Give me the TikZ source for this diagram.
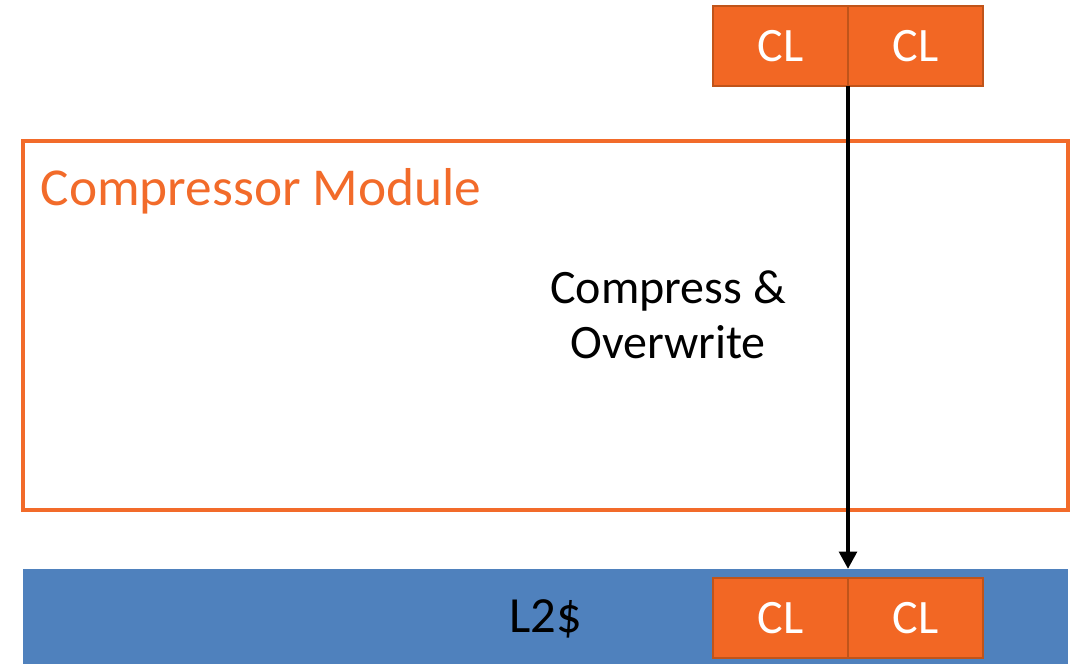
\documentclass[tikz,border=0pt]{standalone}
\usepackage{fontspec}
\setmainfont{Carlito}
\usetikzlibrary{arrows.meta}
\definecolor{clorange}{HTML}{F26724}
\definecolor{cledge}{HTML}{C0541A}
\definecolor{modorange}{HTML}{F26B2A}
\definecolor{cacheblue}{HTML}{4F81BD}
\tikzset{
  cl/.style={draw=cledge, line width=1.8pt, fill=clorange, minimum width=101.25pt, minimum height=60pt,
    inner sep=0pt, outer sep=0pt, text=white, font=\fontsize{36}{40}\selectfont, anchor=south west},
}
\begin{document}
\begin{tikzpicture}[x=0.75pt,y=0.75pt]
  \useasboundingbox (0,0) rectangle (1074,664);
  % L2 cache band
  \fill[cacheblue] (23,0) rectangle (1068,95);
  \node[font=\fontsize{38}{42}\selectfont] (l2) at (546,45) {L2\$};
  % compressor module frame
  \draw[modorange, line width=2.4pt] (23,154) rectangle (1068,523);
  \node[text=modorange, anchor=west, font=\fontsize{40}{44}\selectfont] (mod) at (36,473) {Compressor Module};
  \node[align=center, font=\fontsize{36}{41}\selectfont] (op) at (668,349) {Compress \&\\Overwrite};
  % incoming cache lines
  \node[cl] (t1) at (713,578) {CL};
  \node[cl] (t2) at (848,578) {CL};
  % cache lines in L2
  \node[cl] (b1) at (713,6) {CL};
  \node[cl] (b2) at (848,6) {CL};
  % transfer arrow, straight down along the seam between the two lines
  \coordinate (split) at (848,95);
  \draw[line width=3.6pt, -{Triangle[width=13pt,length=13pt]}] (split |- t1.south) -- (split);
\end{tikzpicture}
\end{document}
